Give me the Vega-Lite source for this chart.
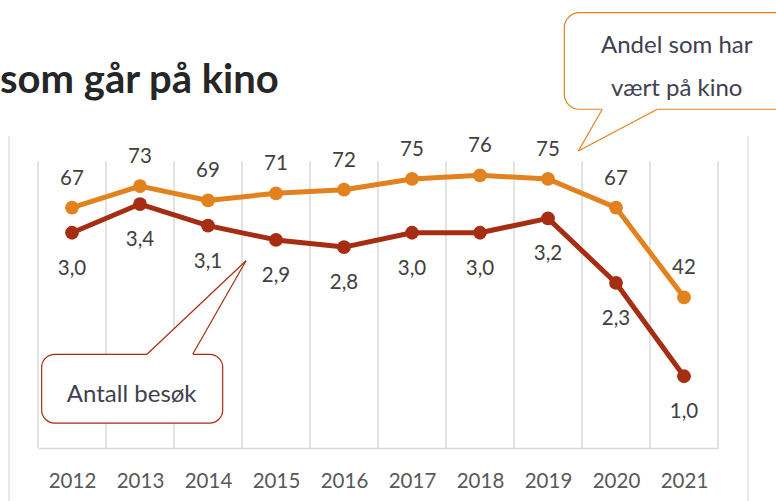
{
  "$schema": "https://vega.github.io/schema/vega-lite/v6.json",
  "width": 680,
  "height": 287,
  "autosize": {"type": "none"},
  "padding": {"left": 38, "top": 161, "right": 58, "bottom": 53},
  "background": "white",
  "config": {
    "view": {"stroke": null},
    "locale": {"number": {"decimal": ",", "thousands": " ", "grouping": [3], "currency": ["", " kr"]}}
  },
  "datasets": {
    "series": [
      {"year": 2012, "andel": 67, "besok": 3.0},
      {"year": 2013, "andel": 73, "besok": 3.4},
      {"year": 2014, "andel": 69, "besok": 3.1},
      {"year": 2015, "andel": 71, "besok": 2.9},
      {"year": 2016, "andel": 72, "besok": 2.8},
      {"year": 2017, "andel": 75, "besok": 3.0},
      {"year": 2018, "andel": 76, "besok": 3.0},
      {"year": 2019, "andel": 75, "besok": 3.2},
      {"year": 2020, "andel": 67, "besok": 2.3},
      {"year": 2021, "andel": 42, "besok": 1.0}
    ]
  },
  "encoding": {
    "x": {"field": "year", "type": "quantitative", "scale": {"domain": [2011.5, 2021.5], "nice": false, "zero": false},
      "axis": {"title": null, "values": [2012, 2013, 2014, 2015, 2016, 2017, 2018, 2019, 2020, 2021], "format": "d", "ticks": false, "grid": false,
        "domainColor": "#d9d9d9", "domainWidth": 1.5, "labelFont": "Lato", "labelFontSize": 20.5, "labelColor": "#595959",
        "labelBaseline": "alphabetic", "labelPadding": 39, "labelFlush": false}}
  },
  "resolve": {"scale": {"y": "independent"}},
  "layer": [
    {
      "data": {"values": [{"year": 2011.5}, {"year": 2012.5}, {"year": 2013.5}, {"year": 2014.5}, {"year": 2015.5}, {"year": 2016.5}, {"year": 2017.5}, {"year": 2018.5}, {"year": 2019.5}, {"year": 2020.5}, {"year": 2021.5}]},
      "mark": {"type": "rule", "color": "#d9d9d9", "strokeWidth": 1.5},
      "encoding": {
        "y": {"datum": 0, "type": "quantitative", "scale": {"domain": [0, 4]}, "axis": null},
        "y2": {"datum": 4}
      }
    },
    {
      "data": {"values": [{"year": 2011.074}, {"year": 2021.941}]},
      "mark": {"type": "rule", "color": "#d9d9d9", "strokeWidth": 1.2},
      "encoding": {
        "y": {"datum": -0.8, "type": "quantitative", "scale": {"domain": [0, 4]}, "axis": null},
        "y2": {"datum": 4.348}
      }
    },
    {
      "data": {"values": [{"year": 2011.554, "x2": 2014.216, "y": 0.348, "y2": 1.306}]},
      "mark": {"type": "rect", "fill": "white", "stroke": "#A52D11", "strokeWidth": 1.2, "cornerRadius": 13},
      "encoding": {
        "x2": {"field": "x2"},
        "y": {"field": "y", "type": "quantitative", "scale": {"domain": [0, 4]}, "axis": null},
        "y2": {"field": "y2"}
      }
    },
    {
      "data": {"values": [{"year": 2019.240, "x2": 2022.559, "y": 4.721, "y2": 6.067}]},
      "mark": {"type": "rect", "fill": "white", "stroke": "#E1821E", "strokeWidth": 1.2, "cornerRadius": 15},
      "encoding": {
        "x2": {"field": "x2"},
        "y": {"field": "y", "type": "quantitative", "scale": {"domain": [0, 4]}, "axis": null},
        "y2": {"field": "y2"}
      }
    },
    {
      "data": {"values": [
        {"c": "besok", "year": 2013.103, "y": 1.27, "y2": 1.31},
        {"c": "besok", "year": 2013.775, "y": 1.296, "y2": 1.908},
        {"c": "besok", "year": 2014.559, "y": 2.610, "y2": 2.610},
        {"c": "andel", "year": 2019.446, "y": 4.139, "y2": 4.139},
        {"c": "andel", "year": 2019.799, "y": 4.316, "y2": 4.735},
        {"c": "andel", "year": 2020.607, "y": 4.71, "y2": 4.75}
      ]},
      "mark": {"type": "area", "fill": "white", "stroke": null, "interpolate": "linear"},
      "encoding": {
        "y": {"field": "y", "type": "quantitative", "scale": {"domain": [0, 4]}, "axis": null, "stack": null},
        "y2": {"field": "y2"},
        "detail": {"field": "c"}
      }
    },
    {
      "data": {"values": [
        {"year": 2014.559, "y": 2.610, "x2": 2013.103, "y2": 1.306},
        {"year": 2014.559, "y": 2.610, "x2": 2013.775, "y2": 1.306}
      ]},
      "mark": {"type": "rule", "color": "#A52D11", "strokeWidth": 1.2},
      "encoding": {
        "x2": {"field": "x2"},
        "y": {"field": "y", "type": "quantitative", "scale": {"domain": [0, 4]}, "axis": null},
        "y2": {"field": "y2"}
      }
    },
    {
      "data": {"values": [
        {"year": 2019.446, "y": 4.139, "x2": 2019.799, "y2": 4.721},
        {"year": 2019.446, "y": 4.139, "x2": 2020.607, "y2": 4.721}
      ]},
      "mark": {"type": "rule", "color": "#E1821E", "strokeWidth": 1.2},
      "encoding": {
        "x2": {"field": "x2"},
        "y": {"field": "y", "type": "quantitative", "scale": {"domain": [0, 4]}, "axis": null},
        "y2": {"field": "y2"}
      }
    },
    {
      "data": {"values": [
        {"year": 2012.878, "y": 0.645, "t": "Antall besøk"},
        {"year": 2020.893, "y": 5.501, "t": "Andel som har"},
        {"year": 2020.893, "y": 4.910, "t": "vært på kino"}
      ]},
      "mark": {"type": "text", "font": "Lato", "fontSize": 24, "color": "#404050", "align": "center", "baseline": "alphabetic"},
      "encoding": {
        "y": {"field": "y", "type": "quantitative", "scale": {"domain": [0, 4]}, "axis": null},
        "text": {"field": "t"}
      }
    },
    {
      "data": {"values": [{"year": 2010.941, "y": 4.948, "t": "som går på kino"}]},
      "mark": {"type": "text", "font": "Lato", "fontSize": 40, "fontWeight": "bold", "color": "#262626", "align": "left", "baseline": "alphabetic"},
      "encoding": {
        "y": {"field": "y", "type": "quantitative", "scale": {"domain": [0, 4]}, "axis": null},
        "text": {"field": "t"}
      }
    },
    {
      "data": {"name": "series"},
      "mark": {"type": "line", "color": "#E1821E", "strokeWidth": 5, "strokeJoin": "round", "point": {"filled": true, "size": 190, "color": "#E1821E", "opacity": 1}},
      "encoding": {
        "y": {"field": "andel", "type": "quantitative", "scale": {"domain": [0, 80]}, "axis": null}
      }
    },
    {
      "data": {"name": "series"},
      "mark": {"type": "line", "color": "#A52D11", "strokeWidth": 5, "strokeJoin": "round", "point": {"filled": true, "size": 190, "color": "#A52D11", "opacity": 1}},
      "encoding": {
        "y": {"field": "besok", "type": "quantitative", "scale": {"domain": [0, 4]}, "axis": null}
      }
    },
    {
      "data": {"name": "series"},
      "mark": {"type": "text", "font": "Lato", "fontSize": 20.5, "color": "#404040", "baseline": "alphabetic", "dy": -23},
      "encoding": {
        "y": {"field": "andel", "type": "quantitative", "scale": {"domain": [0, 80]}, "axis": null},
        "text": {"field": "andel", "type": "quantitative", "format": "d"}
      }
    },
    {
      "data": {"name": "series"},
      "mark": {"type": "text", "font": "Lato", "fontSize": 20.5, "color": "#404040", "baseline": "alphabetic", "dy": 42},
      "encoding": {
        "y": {"field": "besok", "type": "quantitative", "scale": {"domain": [0, 4]}, "axis": null},
        "text": {"field": "besok", "type": "quantitative", "format": ".1f"}
      }
    }
  ]
}
